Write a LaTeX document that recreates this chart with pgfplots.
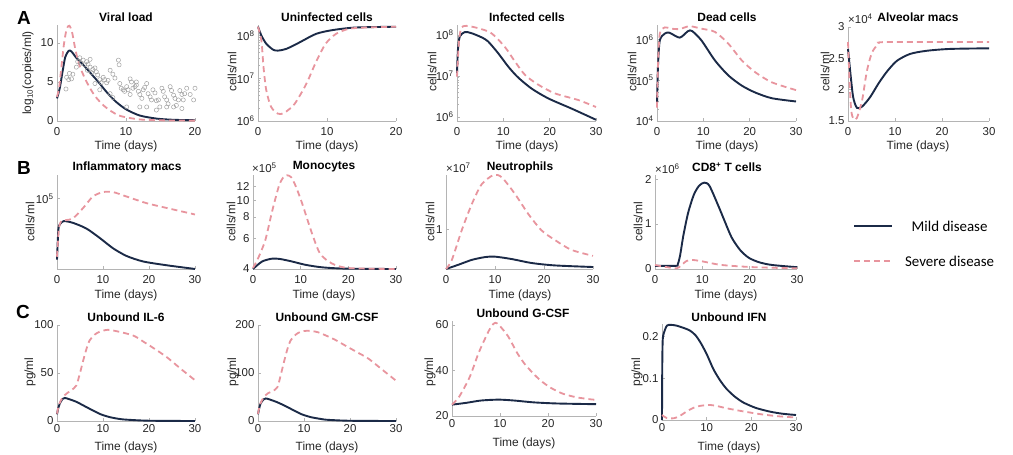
\documentclass[border=0pt]{standalone}
\usepackage{pgfplots}
\pgfplotsset{compat=1.18}
\usepackage{fontspec}
\setmainfont{Liberation Sans}
\newfontfamily\legfont{Carlito}

\definecolor{navy}{HTML}{1B2A47}
\definecolor{sev}{HTML}{E8959E}
\definecolor{axgrey}{HTML}{B4B4B4}
\definecolor{tickc}{HTML}{262626}
\definecolor{ptgrey}{HTML}{9A9A9A}

\newcommand{\tf}{\fontsize{11.5}{13}\selectfont}
\newcommand{\ttl}{\fontsize{12}{14}\selectfont\bfseries}
\newcommand{\lbl}{\fontsize{12}{14}\selectfont}

\pgfplotsset{
  panel/.style={scale only axis, anchor=south west, axis lines*=left,
    axis line style={draw=axgrey, line width=0.7bp, -},
    tick style={draw=axgrey, line width=0.5bp},
    tick align=inside, major tick length=3bp, minor tick length=1.8bp,
    ticklabel style={font=\tf, text=tickc},
    xmin=0, clip=false,
    /pgf/number format/assume math mode=true},
  mild/.style={navy, line width=1.9bp, smooth, tension=0.45, no marks},
  severe/.style={sev, line width=1.8bp, dash pattern=on 6bp off 4bp, smooth, tension=0.45, no marks},
  xt20/.style={xmax=20, xtick={0,10,20}, xticklabels={0,10,20}},
  xt30/.style={xmax=30, xtick={0,10,20,30}, xticklabels={0,10,20,30}},
  rowab/.style={xticklabel style={yshift=-3bp}},
}

\begin{document}
\begin{tikzpicture}
\useasboundingbox (0bp,0bp) rectangle (1013bp,-455bp);

% ---------------- row A ----------------
% viral load
\begin{axis}[panel, xt20, rowab, width=138bp, height=96bp, at={(57bp,-121bp)},
  ymin=0, ymax=12.3, ytick={0,5,10}, yticklabels={0,5,10}]
\addplot[only marks, mark=o, mark size=2.1bp, draw=ptgrey, line width=0.45bp] coordinates {
 (1.3,4.1)(1.4,5.6)(1.7,5.3)(2.1,5.4)(1.8,6.1)(2.3,6.0)(2.8,6.9)(3.0,7.6)(3.3,8.1)(3.5,7.4)
 (3.8,7.8)(4.0,7.2)(4.3,7.6)(4.4,6.5)(4.5,7.3)(4.8,6.9)(5.0,6.2)(5.2,6.6)(5.5,6.8)(5.7,6.3)
 (5.9,5.9)(5.5,4.8)(6.2,5.3)(6.4,4.9)(6.7,5.6)(6.9,5.3)(7.2,4.9)(7.4,5.2)(7.7,6.5)(8.1,6.0)
 (8.4,5.5)(8.9,7.8)(9.0,7.2)(9.1,4.8)(9.3,4.2)(9.6,4.0)(9.8,3.8)(10.1,4.4)(10.3,4.0)(10.6,3.4)
 (10.8,5.0)(11.0,4.2)(11.3,4.4)(11.5,4.6)(11.8,3.8)(12.0,3.4)(12.3,2.9)(12.5,4.0)(12.7,4.3)(13.0,4.8)
 (13.2,3.5)(13.5,3.1)(13.7,2.7)(13.9,4.0)(14.2,3.6)(14.4,2.6)(14.7,2.7)(14.9,1.8)(15.2,4.2)(15.4,3.8)
 (15.6,3.1)(15.9,2.7)(16.1,2.2)(16.4,4.4)(16.6,3.9)(16.9,3.3)(17.1,2.9)(17.3,2.0)(17.6,2.7)(17.8,3.9)
 (18.1,3.4)(18.3,2.7)(18.5,3.5)(18.8,4.2)(19.3,3.4)(19.8,2.7)(20.0,4.2)(10.1,1.8)(12.0,1.8)(13.0,1.8)
 (14.4,1.4)(15.9,1.8)(16.9,1.8)(18.1,1.6)(10.6,5.4)(11.5,5.0)(4.8,7.9)(6.2,4.0)(7.7,3.5)(8.1,3.0)
};
\addplot[mild] coordinates {(0,2.9)(0.4,4.2)(0.8,6.3)(1.2,8.2)(1.7,9.0)(2.1,8.9)(2.8,8.1)(3.8,7.2)(5,6.0)(6,5.0)(7.2,3.7)(8.5,2.5)(10,1.5)(12,0.7)(14.5,0.3)(17,0.15)(20,0.1)};
\addplot[severe] coordinates {(0,3.1)(0.3,4.2)(0.6,6.6)(1.0,9.8)(1.4,11.8)(1.8,12.2)(2.2,11.3)(2.7,9.0)(3.3,7.0)(4.3,5.0)(5.5,3.2)(7,1.8)(9,0.7)(12,0.2)(16,0.07)(20,0.05)};
\end{axis}

% uninfected
\begin{axis}[panel, xt20, rowab, ymode=log, width=138bp, height=96bp, at={(258bp,-121bp)},
  ymin=1e6, ymax=1.778e8, ytick={1e6,1e7,1e8},
  yticklabels={10\textsuperscript{6},10\textsuperscript{7},10\textsuperscript{8}}]
\addplot[mild] coordinates {(0,1.62e8)(0.5,1.0e8)(1.2,6.46e7)(2.2,4.68e7)(2.9,4.47e7)(4.1,4.90e7)(6.0,6.92e7)(8.4,1.10e8)(10.8,1.35e8)(14.1,1.55e8)(20,1.62e8)};
\addplot[severe] coordinates {(0,1.62e8)(0.5,7.59e7)(0.8,1.82e7)(1.2,5.25e6)(1.9,2.14e6)(2.9,1.48e6)(3.8,1.55e6)(5.3,2.51e6)(7.0,7.41e6)(8.4,2.40e7)(9.8,6.46e7)(11.3,1.10e8)(13.2,1.45e8)(15.6,1.55e8)(20,1.62e8)};
\end{axis}

% infected
\begin{axis}[panel, xt30, rowab, ymode=log, width=139bp, height=96bp, at={(457bp,-121bp)},
  ymin=7.94e5, ymax=1.738e8, ytick={1e6,1e7,1e8},
  yticklabels={10\textsuperscript{6},10\textsuperscript{7},10\textsuperscript{8}}]
\addplot[mild] coordinates {(0,1.15e7)(0.2,4.27e7)(0.6,9.12e7)(1.7,1.17e8)(3.1,1.10e8)(5.3,8.71e7)(6.7,6.92e7)(8.9,3.55e7)(11.1,1.66e7)(13.2,9.12e6)(16.1,4.90e6)(19.7,2.82e6)(24.8,1.58e6)(30,8.51e5)};
\addplot[severe] coordinates {(0,9.55e6)(0.4,6.31e7)(0.9,1.45e8)(2.0,1.66e8)(4.6,1.45e8)(7.4,1.10e8)(10.3,5.13e7)(12.5,2.24e7)(14.7,1.05e7)(17.6,6.03e6)(21.2,3.72e6)(26.2,2.57e6)(30,1.74e6)};
\end{axis}

% dead
\begin{axis}[panel, xt30, rowab, ymode=log, width=139bp, height=96bp, at={(657bp,-121bp)},
  ymin=1e4, ymax=2.29e6, ytick={1e4,1e5,1e6},
  yticklabels={10\textsuperscript{4},10\textsuperscript{5},10\textsuperscript{6}}]
\addplot[mild] coordinates {(0,2.57e4)(0.2,2.09e5)(0.6,9.55e5)(1.7,1.41e6)(2.7,1.48e6)(4.9,1.12e6)(6.7,1.62e6)(7.6,1.62e6)(9.6,9.55e5)(12.5,3.09e5)(15.4,1.32e5)(18.3,7.41e4)(21.2,5.01e4)(24.8,3.63e4)(30,3.02e4)};
\addplot[severe] coordinates {(0,2.14e4)(0.2,2.09e5)(0.6,1.41e6)(1.7,2.0e6)(3.1,1.86e6)(4.9,1.82e6)(7.0,2.14e6)(9.6,1.86e6)(12.5,1.55e6)(15.4,7.94e5)(18.3,3.09e5)(21.2,1.58e5)(24.8,8.91e4)(30,5.75e4)};
\end{axis}

% alveolar macs (x 10^4)
\begin{axis}[panel, xt30, rowab, width=141bp, height=94bp, at={(848bp,-121bp)},
  ymin=1.5, ymax=3, ytick={1.5,2,2.5,3}, yticklabels={1.5,2,2.5,3}]
\addplot[mild] coordinates {(0,2.65)(0.5,2.27)(1.1,1.88)(1.9,1.71)(3.0,1.73)(4.7,1.88)(6.5,2.10)(8.3,2.29)(10.4,2.46)(13.2,2.57)(16.7,2.62)(21.7,2.65)(30,2.66)};
\addplot[severe] coordinates {(0,2.76)(0.35,2.10)(0.7,1.66)(1.2,1.53)(1.9,1.55)(3.0,1.83)(4.0,2.29)(5.1,2.59)(6.5,2.73)(8.3,2.76)(30,2.76)};
\end{axis}

% ---------------- row B ----------------
% inflammatory macs
\begin{axis}[panel, xt30, rowab, ymode=log, width=138bp, height=94bp, at={(57bp,-269bp)},
  ymin=17783, ymax=177828, ytick={1e5}, yticklabels={10\textsuperscript{5}}]
\addplot[mild] coordinates {(0,2.24e4)(0.3,4.68e4)(0.7,5.37e4)(1.5,5.75e4)(3.5,5.50e4)(6.4,4.79e4)(9.3,3.80e4)(12.2,2.95e4)(15.1,2.45e4)(18.7,2.14e4)(23.8,1.95e4)(30,1.78e4)};
\addplot[severe] coordinates {(0,2.40e4)(0.4,4.68e4)(0.9,5.75e4)(2.0,5.89e4)(3.5,6.17e4)(5.7,7.94e4)(7.8,1.05e5)(10,1.17e5)(12.2,1.17e5)(15.1,1.05e5)(19.5,8.91e4)(23.8,7.94e4)(30,6.76e4)};
\end{axis}

% monocytes (x 10^5)
\begin{axis}[panel, xt30, rowab, ymode=log, width=143bp, height=94bp, at={(253bp,-269bp)},
  ymin=4, ymax=14, ytick={4,6,8,10,12}, yticklabels={4,6,8,10,12}, yminorticks=false]
\addplot[mild] coordinates {(0,4.0)(1.9,4.42)(4.0,4.59)(5.7,4.57)(8.2,4.42)(11,4.23)(14.5,4.09)(19.4,4.02)(30,4.0)};
\addplot[severe] coordinates {(0,4.05)(1.2,4.7)(2.6,5.9)(4.0,8.6)(5.4,12.0)(6.3,13.5)(7.1,13.95)(8.0,13.6)(9.0,12.0)(10.3,9.6)(12.4,6.4)(14.1,4.9)(16.6,4.3)(20.1,4.05)(30,4.0)};
\end{axis}

% neutrophils (x 10^7)
\begin{axis}[panel, xt30, rowab, width=147bp, height=94bp, at={(446bp,-269bp)},
  ymin=0, ymax=2.36, ytick={1}, yticklabels={1}]
\addplot[mild] coordinates {(0,0)(2.6,0.11)(5.3,0.23)(8,0.30)(10,0.31)(13.4,0.25)(17.5,0.15)(22.2,0.09)(30,0.05)};
\addplot[severe] coordinates {(0,0)(1.2,0.23)(3.2,0.97)(5.3,1.64)(7.3,2.13)(9.7,2.36)(11.4,2.30)(14.1,1.88)(16.8,1.38)(19.5,0.97)(22.2,0.73)(25.6,0.48)(30,0.33)};
\end{axis}

% CD8 T cells (x 10^6)
\begin{axis}[panel, xt30, rowab, width=142bp, height=94bp, at={(655bp,-269bp)},
  ymin=0, ymax=2.09, ytick={0,1,2}, yticklabels={0,1,2},
  legend style={at={(axis description cs:1.373,0.271)}, anchor=west, draw=none, fill=none,
    font=\legfont\fontsize{15}{17}\selectfont, text=black, row sep=20bp,
    nodes={text height=10.5bp, text depth=0bp, inner sep=2bp},
    /tikz/every odd column/.append style={column sep=10bp}},
  legend image code/.code={\draw[#1, smooth=false] (0bp,0bp) -- (38bp,0bp);}]
\addplot[mild] coordinates {(0,0.07)(4.4,0.07)(4.8,0.1)(5.3,0.3)(6,0.75)(7,1.25)(8.2,1.65)(9.3,1.85)(10.4,1.92)(11.5,1.85)(13.4,1.40)(14.5,1.12)(16.2,0.70)(18,0.42)(19.8,0.25)(22,0.15)(24.7,0.09)(30,0.04)};
\addlegendentry{Mild disease}
\addplot[severe] coordinates {(0,0.09)(2,0.05)(4.6,0.015)(5.5,0.08)(6.7,0.18)(8.0,0.2)(10,0.17)(14,0.09)(21,0.04)(30,0.015)};
\addlegendentry{Severe disease}
\end{axis}

% ---------------- row C ----------------
% IL-6
\begin{axis}[panel, xt30, width=138bp, height=96bp, at={(57bp,-421bp)},
  ymin=0, ymax=100, ytick={0,50,100}, yticklabels={0,50,100}]
\addplot[mild] coordinates {(0,7)(0.3,14)(0.6,18)(1.2,23)(1.7,24)(2.5,23)(4.2,20)(6,15.5)(7.8,11)(9.5,7)(11.5,4)(13.5,2.2)(15.1,1.4)(20,0.3)(30,0)};
\addplot[severe] coordinates {(0,7.7)(0.5,18)(1.3,25)(2.2,29)(3.1,32)(4.2,37)(5,50)(5.7,63)(6.4,75)(7.1,84)(8.2,90)(9.3,93)(11,95)(13,93.5)(16.6,89)(19,82)(21.6,74)(24,66)(27,54)(30,42.5)};
\end{axis}

% GM-CSF
\begin{axis}[panel, xt30, width=138bp, height=96bp, at={(258bp,-421bp)},
  ymin=0, ymax=200, ytick={0,100,200}, yticklabels={0,100,200}]
\addplot[mild] coordinates {(0,14)(0.3,28)(0.6,37)(1.2,45)(1.7,47)(2.5,45)(4.2,39)(6,31)(7.8,22)(9.5,14)(11.5,8)(13.5,4.5)(15.1,2.5)(20,0.5)(30,0)};
\addplot[severe] coordinates {(0,15)(0.5,36)(1.3,50)(2.2,58)(3.1,62)(4.2,70)(5,98)(5.7,125)(6.4,150)(7.1,168)(8.2,180)(9.3,186)(10.7,188)(13,185)(16.6,170)(19,157)(21.6,143)(24,130)(27,107)(30,84)};
\end{axis}

% G-CSF
\begin{axis}[panel, xt30, width=144bp, height=95.5bp, at={(452bp,-416bp)},
  ymin=20, ymax=62, ytick={20,40,60}, yticklabels={20,40,60}]
\addplot[mild] coordinates {(0,25)(3,25.8)(6,26.8)(9.7,27.2)(13,26.8)(17,26)(22,25.5)(30,25.2)};
\addplot[severe] coordinates {(0,25)(1.5,28.5)(3.7,37.2)(5.5,47.5)(7.1,55)(8.2,59.5)(9,61)(9.8,60)(11.7,55)(13.5,48)(15.1,43)(16.8,39)(18.4,35.7)(20.5,32.5)(23.1,29.8)(26,28.2)(29,27.3)(30,27.1)};
\end{axis}

% IFN
\begin{axis}[panel, xt30, width=134bp, height=96bp, at={(662bp,-420bp)},
  ymin=0, ymax=0.23, ytick={0,0.1,0.2}, yticklabels={0,0.1,0.2}]
\addplot[mild] coordinates {(0,0)(0.05,0.12)(0.15,0.19)(0.4,0.208)(1.1,0.226)(2,0.228)(3.3,0.226)(5,0.22)(6.3,0.214)(7.5,0.203)(8.6,0.186)(10,0.158)(11.5,0.122)(13,0.095)(14.5,0.074)(16.3,0.056)(18.2,0.042)(21,0.029)(24.2,0.02)(27,0.015)(30,0.012)};
\addplot[severe] coordinates {(0,0.012)(1,0.005)(2.6,0.004)(4,0.01)(5.6,0.021)(7,0.029)(8.6,0.034)(10.8,0.036)(12.5,0.033)(14.5,0.028)(18,0.021)(22,0.014)(26,0.009)(30,0.006)};
\end{axis}

% ---------------- text ----------------
\begin{scope}[every node/.style={inner sep=0pt}]
\node[font=\fontsize{19}{21}\selectfont\bfseries] at (24bp,-18bp) {A};
\node[font=\fontsize{19}{21}\selectfont\bfseries] at (24bp,-168bp) {B};
\node[font=\fontsize{19}{21}\selectfont\bfseries] at (23bp,-312bp) {C};

\foreach \x/\t in {126/Viral load, 327/Uninfected cells, 527/Infected cells, 727/Dead cells, 918/Alveolar macs}
  \node[font=\ttl] at (\x bp,-17bp) {\t};
\foreach \x/\t in {127/Inflammatory macs, 324/Monocytes, 520/Neutrophils, 727/CD8\textsuperscript{+} T cells}
  \node[font=\ttl] at (\x bp,-167bp) {\t};
\foreach \x/\t in {126/Unbound IL-6, 327/Unbound GM-CSF, 729/Unbound IFN}
  \node[font=\ttl] at (\x bp,-317bp) {\t};
\node[font=\ttl] at (523bp,-313bp) {Unbound G-CSF};

\foreach \x in {126,327,527,727,918}
  \node[font=\lbl, text=tickc] at (\x bp,-146bp) {Time (days)};
\foreach \x in {126,324,520,726}
  \node[font=\lbl, text=tickc] at (\x bp,-295bp) {Time (days)};
\foreach \x in {126,327,729}
  \node[font=\lbl, text=tickc] at (\x bp,-447bp) {Time (days)};
\node[font=\lbl, text=tickc] at (524bp,-443bp) {Time (days)};

\node[font=\lbl, text=tickc, rotate=90] at (28bp,-73bp) {log\textsubscript{10}(copies/ml)};
\foreach \x in {232,432,632,825}
  \node[font=\lbl, text=tickc, rotate=90] at (\x bp,-72bp) {cells/ml};
\foreach \x in {30,231,430,638}
  \node[font=\lbl, text=tickc, rotate=90] at (\x bp,-222bp) {cells/ml};
\foreach \x in {30,233,430,637}
  \node[font=\lbl, text=tickc, rotate=90] at (\x bp,-372bp) {pg/ml};

\node[font=\tf, text=tickc, anchor=west] at (848bp,-19bp) {×10\textsuperscript{4}};
\node[font=\tf, text=tickc, anchor=west] at (252bp,-168bp) {×10\textsuperscript{5}};
\node[font=\tf, text=tickc, anchor=west] at (446bp,-168bp) {×10\textsuperscript{7}};
\node[font=\tf, text=tickc, anchor=west] at (655bp,-169bp) {×10\textsuperscript{6}};
\end{scope}
\end{tikzpicture}
\end{document}
